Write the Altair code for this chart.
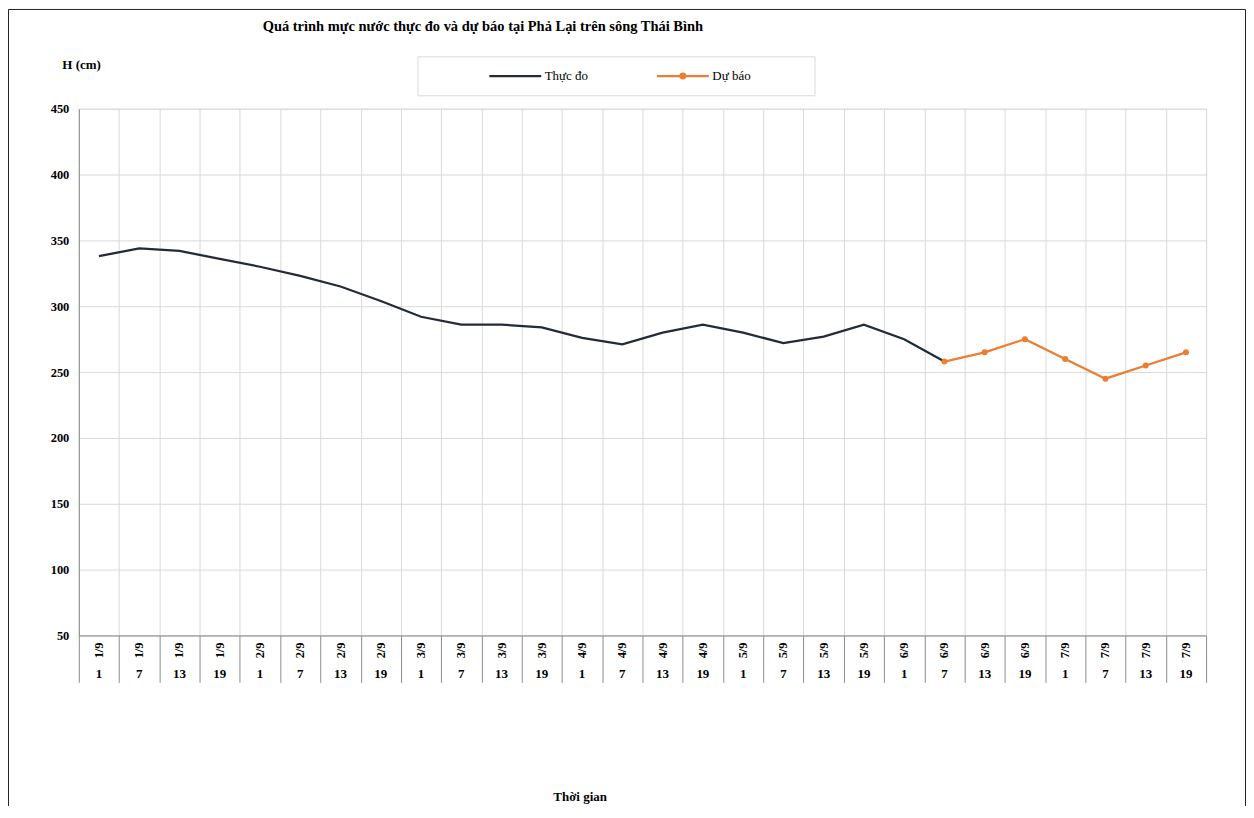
import altair as alt
import pandas as pd

# ---- data ----
DATES = ["1/9"] * 4 + ["2/9"] * 4 + ["3/9"] * 4 + ["4/9"] * 4 + ["5/9"] * 4 + ["6/9"] * 4 + ["7/9"] * 4
HOURS = ["1", "7", "13", "19"] * 7
ACTUAL = [338, 344, 342, 336, 330, 323, 315, 304, 292, 286, 286, 284, 276, 271,
          280, 286, 280, 272, 277, 286, 275, 258]
FORECAST = [258, 265, 275, 260, 245, 255, 265]
FORECAST_START = 21
SERIES = ["Thực đo", "Dự báo"]
COLORS = ["#222b38", "#ed7d31"]
LEGEND_SHAPES = [
    "M-1,0H1",
    "M-1,0H1M0.09,0A0.09,0.09,0,1,1,-0.09,0A0.09,0.09,0,1,1,0.09,0",
]
TITLE = "Quá trình mực nước thực đo và dự báo tại Phả Lại trên sông Thái Bình"
Y_TITLE = "H (cm)"
X_TITLE = "Thời gian"

FONT = "Liberation Serif"
W, H = 1130, 528

rows = []
for i, v in enumerate(ACTUAL):
    rows.append({"idx": i, "value": v, "series": SERIES[0]})
for j, v in enumerate(FORECAST):
    rows.append({"idx": FORECAST_START + j, "value": v, "series": SERIES[1]})
df = pd.DataFrame(rows)

cats = pd.DataFrame({"idx": list(range(len(DATES))), "date": DATES, "hour": HOURS})

xaxis = alt.Axis(
    values=[i - 0.5 for i in range(len(DATES) + 1)],
    labels=False, tickSize=47, tickColor="#8c8c8c", domainColor="#8c8c8c",
    grid=True, gridColor="#d9d9d9",
    title=X_TITLE, titleFont=FONT, titleFontSize=13, titleFontWeight="bold",
    titleColor="black", titleX=502, titleY=161, titleBaseline="middle", titleAlign="center",
)
X = alt.X("idx:Q", scale=alt.Scale(domain=[-0.5, len(DATES) - 0.5], nice=False, zero=False), axis=xaxis)

yaxis = alt.Axis(
    values=list(range(50, 451, 50)), ticks=False, labelPadding=10,
    labelFont=FONT, labelFontSize=12.5, labelFontWeight="bold", labelColor="black",
    domainColor="#8c8c8c", grid=True, gridColor="#d9d9d9",
    title=Y_TITLE, titleAngle=0, titleAlign="left", titleBaseline="middle",
    titleX=-17, titleY=-44, titleFont=FONT, titleFontSize=13, titleFontWeight="bold",
    titleColor="black",
)
Y = alt.Y("value:Q", scale=alt.Scale(domain=[50, 450], nice=False, zero=False), axis=yaxis)

base = alt.Chart(df)

line_actual = base.transform_filter(alt.datum.series == SERIES[0]).mark_line(
    strokeWidth=2.25, color=COLORS[0]
).encode(x=X, y=Y)

line_fc = base.transform_filter(alt.datum.series == SERIES[1]).mark_line(
    strokeWidth=2.25, color=COLORS[1]
).encode(x=X, y=Y)

points = base.transform_filter(alt.datum.series == SERIES[1]).mark_point(
    filled=True, size=36, opacity=1, color=COLORS[1]
).encode(x=X, y=Y)

leg = alt.Legend(
    orient="none", legendX=410, legendY=-60.5, direction="horizontal", title=None,
    labelFont=FONT, labelFontSize=13, labelColor="black", labelOffset=2,
    columnPadding=64, padding=0, symbolSize=2704, symbolStrokeWidth=2.25,
    symbolOpacity=1,
)
legend_layer = base.mark_point(
    filled=False, strokeWidth=2.25, size=2704, opacity=0
).encode(
    color=alt.Color("series:N", scale=alt.Scale(domain=SERIES, range=COLORS), legend=leg),
    shape=alt.Shape("series:N", scale=alt.Scale(domain=SERIES, range=LEGEND_SHAPES), legend=leg),
)

one = alt.Data(values=[{"a": 1}])
legend_box = alt.Chart(one).mark_rect(fill="white", stroke="#d9d9d9", strokeWidth=1).encode(
    x=alt.value(340), x2=alt.value(738), y=alt.value(-52), y2=alt.value(-13)
)
frame = alt.Chart(one).mark_rect(fill="transparent", stroke="#222222", strokeWidth=1).encode(
    x=alt.value(-70.5), x2=alt.value(1169.5), y=alt.value(-99.5), y2=alt.value(760)
)
title = alt.Chart(one).mark_text(
    text=TITLE, font=FONT, fontSize=14.5, fontWeight="bold", color="black",
    align="center", baseline="middle"
).encode(x=alt.value(405), y=alt.value(-82))

date_labels = alt.Chart(cats).mark_text(
    font=FONT, fontSize=12.5, fontWeight="bold", color="black",
    angle=270, align="center", baseline="middle"
).encode(x=X, y=alt.value(543), text="date:N")

hour_labels = alt.Chart(cats).mark_text(
    font=FONT, fontSize=13, fontWeight="bold", color="black",
    align="center", baseline="middle"
).encode(x=X, y=alt.value(567), text="hour:N")

chart = alt.layer(
    frame, legend_box, title, line_actual, line_fc, points, legend_layer, date_labels, hour_labels
).properties(
    width=W, height=H,
    padding={"left": 71, "top": 100, "right": 40, "bottom": 170},
    autosize=alt.AutoSizeParams(type="none"),
).configure_view(stroke="#8c8c8c", strokeWidth=1).configure(background="white")

chart.save("out.html", embed_options={"renderer": "svg", "actions": False})
